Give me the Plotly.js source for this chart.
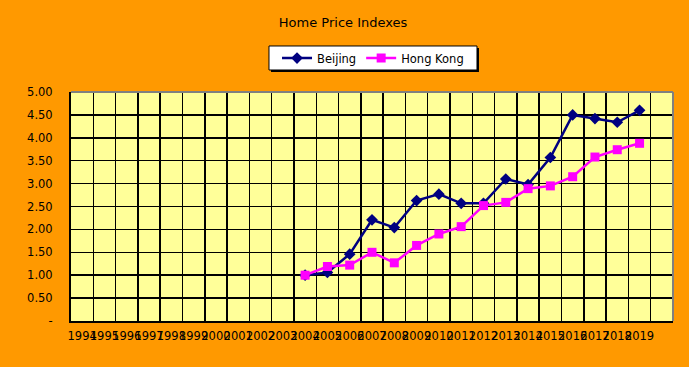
<!DOCTYPE html>
<html>
<head>
<meta charset="utf-8">
<script src="https://cdn.plot.ly/plotly-3.0.1.min.js"></script>
<style>html,body{margin:0;padding:0;background:#FF9900;}#chart{width:689px;height:367px;}</style>
</head>
<body>
<div id="chart"></div>
<script>
const axisYears = [1994,1995,1996,1997,1998,1999,2000,2001,2002,2003,2004,2005,2006,2007,2008,2009,2010,2011,2012,2013,2014,2015,2016,2017,2018,2019];
const axisLabels = ["1994","1995","1996","1997","1998","1999","2000","2001","2002","2003","2004","2005","2006","2007","2008","2009","2010","2011","2012","2013","2014","2015","2016","2017","2018","2019"];
const dataYears = [2004,2005,2006,2007,2008,2009,2010,2011,2012,2013,2014,2015,2016,2017,2018,2019];
const beijing = [1.00,1.06,1.46,2.21,2.04,2.63,2.77,2.57,2.57,3.10,2.98,3.57,4.50,4.42,4.34,4.60];
const hongKong = [1.00,1.19,1.22,1.50,1.27,1.65,1.90,2.06,2.52,2.59,2.89,2.95,3.15,3.58,3.74,3.88];
const yTickVals = [0,0.5,1,1.5,2,2.5,3,3.5,4,4.5,5];
const yTickText = ["-","0.50","1.00","1.50","2.00","2.50","3.00","3.50","4.00","4.50","5.00"];

const fam = "DejaVu Sans, Verdana, sans-serif";
const font = {family: fam, size: 11.5, color: "#000000"};

const traces = [
  {x: dataYears, y: beijing, name: "Beijing", type: "scatter", mode: "lines+markers",
   line: {color: "#000080", width: 2.5}, marker: {symbol: "diamond", size: 9, color: "#000080"}},
  {x: dataYears, y: hongKong, name: "Hong Kong", type: "scatter", mode: "lines+markers",
   line: {color: "#FF00FF", width: 2.5}, marker: {symbol: "square", size: 9, color: "#FF00FF"}}
];

const layout = {
  width: 689, height: 367,
  paper_bgcolor: "#FF9900", plot_bgcolor: "#FFFF99",
  font: font,
  margin: {l: 71, r: 16, t: 92, b: 46, pad: 0},
  title: {text: "Home Price Indexes", font: {family: fam, size: 13, color: "#000"},
          x: 0.498, xref: "container", xanchor: "center", y: 0.94, yref: "container", yanchor: "middle"},
  showlegend: true,
  legend: {orientation: "h", x: 0.5017, xanchor: "center", y: 1.148, yanchor: "middle",
           bgcolor: "rgba(0,0,0,0)", borderwidth: 0, font: font},
  xaxis: {type: "linear", range: [1993.5, 2020.5], tickmode: "array", tickvals: axisYears, ticktext: axisLabels,
          tickangle: 0, showgrid: false, zeroline: false, showline: true, linecolor: "#000", linewidth: 2,
          ticks: "", tickfont: font, ticklabelstandoff: 3,
          minor: {tick0: 1993.5, dtick: 1, showgrid: true, gridcolor: "#000", gridwidth: 1.5, ticks: ""}},
  yaxis: {range: [0, 5], tickmode: "array", tickvals: yTickVals, ticktext: yTickText,
          showgrid: true, gridcolor: "#000", gridwidth: 1.5, zeroline: false,
          showline: true, linecolor: "#000", linewidth: 2, ticks: "", ticklabelstandoff: 14, tickfont: font},
  shapes: [
    {type: "line", xref: "paper", yref: "paper", x0: 0, x1: 1, y0: 1, y1: 1, line: {color: "#808080", width: 2}, layer: "above"},
    {type: "line", xref: "paper", yref: "paper", x0: 1, x1: 1, y0: 0, y1: 1, line: {color: "#808080", width: 2}, layer: "above"},
    {type: "rect", xref: "paper", yref: "paper", x0: 0.3322, x1: 0.6777, y0: 1.1922, y1: 1.0874,
     fillcolor: "#000000", line: {width: 0}, layer: "above"},
    {type: "rect", xref: "paper", yref: "paper", x0: 0.3289, x1: 0.6744, y0: 1.2009, y1: 1.0961,
     fillcolor: "#FFFFFF", line: {color: "#000000", width: 1}, layer: "above"}
  ]
};

Plotly.newPlot("chart", traces, layout, {displayModeBar: false, staticPlot: true});
</script>
</body>
</html>
